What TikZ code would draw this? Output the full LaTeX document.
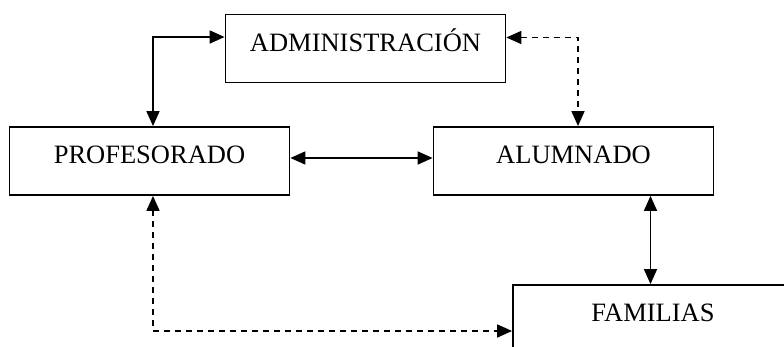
\documentclass[tikz,border=0pt]{standalone}
\usepackage{fontspec}
\setmainfont{Liberation Serif}
\usepackage{tikz}
\usetikzlibrary{arrows.meta, positioning, calc}

\begin{document}
\begin{tikzpicture}[x=1pt, y=1pt,
    box/.style={draw, line width=1.8pt, minimum width=280pt, inner xsep=0pt, inner ysep=0pt,
      text height=37pt, text depth=31pt, font=\fontsize{26.5}{30}\selectfont},
    link/.style={line width=1.7pt, {Triangle[length=15pt, width=13pt]}-{Triangle[length=15pt, width=13pt]}},
    dashlink/.style={link, dash pattern=on 6pt off 5pt}]
  \useasboundingbox (0,0) rectangle (784,347);
  \clip (0,0) rectangle (784,347);

  \node[box] (admin) at (365.5,298.5) {ADMINISTRACI\'ON};
  \node[box] (prof) at (149.5,186) {PROFESORADO};
  \node[box] (alum) at (573.5,186) {ALUMNADO};
  \node[box] (fam) at (653,28) {FAMILIAS};

  % solid links
  \draw[link] ([yshift=11.5pt]admin.west) -| ([xshift=3.5pt]prof.north);
  \draw[link] ([yshift=3pt]prof.east) -- ([yshift=3pt]alum.west);
  \draw[link] ([xshift=77pt]alum.south) -- ([xshift=77pt]alum.south |- fam.north);

  % dashed links
  \draw[dashlink] ([yshift=11pt]admin.east) -| ([xshift=4.5pt]alum.north);
  \draw[dashlink] ([xshift=3.5pt]prof.south) |- ([yshift=-12pt]fam.west);
\end{tikzpicture}
\end{document}
